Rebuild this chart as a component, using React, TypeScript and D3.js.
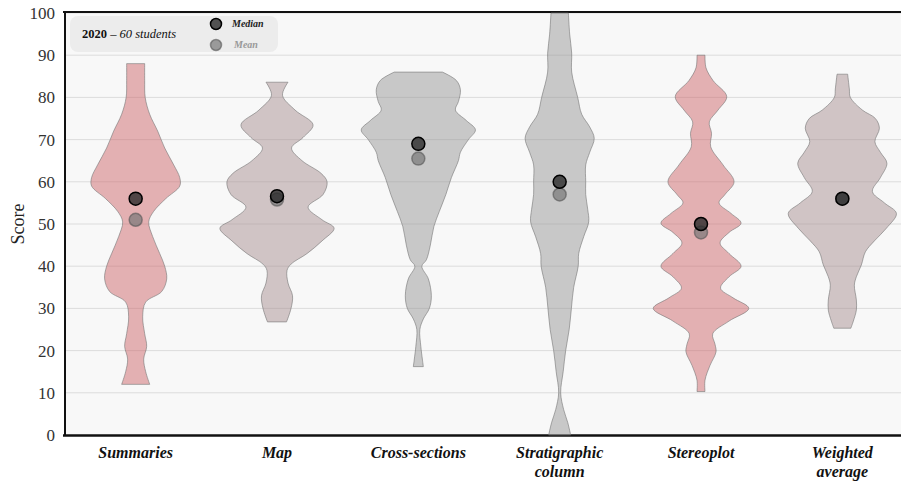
import * as d3 from "d3";
import { useEffect, useRef } from "react";

// categories shown along the x axis (second line after "\n")
const categories = [
  "Summaries",
  "Map",
  "Cross-sections",
  "Stratigraphic\ncolumn",
  "Stereoplot",
  "Weighted\naverage",
];

// violin profiles: [score, relative density]
const densSummaries: [number, number][] = [
  [88, 9], [84, 9], [80, 9.5], [76, 14], [72, 22], [68, 29], [64, 38], [61, 44], [59, 44],
  [56, 30], [53, 18], [50.5, 13], [47, 17], [43, 24], [40, 29], [37, 31], [34, 26],
  [31.5, 10], [28, 7], [24, 9], [21, 11], [18, 8], [15, 10], [12, 14],
];
const densMap: [number, number][] = [
  [83.6, 11], [80.5, 5.5], [77, 18], [73.5, 36], [70.5, 26], [68, 14.5], [65, 25], [62, 44],
  [60, 50], [57, 46], [54, 31], [51, 45], [49, 57], [46, 45], [43, 30], [40.5, 14], [39, 10],
  [36, 11], [33, 15.5], [30, 14], [26.8, 9.5],
];
const densCross: [number, number][] = [
  [86, 24], [84, 38], [81.8, 42], [79, 40], [77, 37], [74.5, 48], [72.3, 57], [70, 50],
  [67, 42], [65, 40], [61, 33], [57, 27.5], [53, 21], [49.4, 15.5], [45, 12], [41.5, 8],
  [40, 3.5], [37, 10], [33, 13], [30, 11], [27.5, 5], [25, 1.5], [21, 2.5], [18, 4], [16.2, 5],
];
const densStrat: [number, number][] = [
  [100, 8.7], [95, 10], [90.5, 12], [86, 12], [80, 18], [76, 22], [73, 30], [70.3, 34.5],
  [67, 30], [64, 26], [60, 26], [57, 26], [53.5, 28], [50.5, 29], [47, 24], [43, 19],
  [40, 18.5], [35, 14], [30, 11.7], [25, 9.5], [20, 6], [15, 3.5], [10, 1], [6, 4], [3, 8], [0, 11],
];
const densStereo: [number, number][] = [
  [90, 4], [87, 5], [84, 12], [80.2, 25.7], [77, 17], [74.2, 8.3], [71.5, 10.5], [68.3, 9.7],
  [64, 22], [60, 33], [57, 24], [55, 18], [52.5, 30], [50.2, 40], [48, 28], [45.5, 19],
  [43, 28], [40, 40], [37.5, 28], [34.8, 19.5], [32.5, 32], [30, 47.7], [27, 28], [24, 11.7],
  [21.5, 14], [19.7, 15], [16.5, 9], [13, 4], [10.3, 4],
];
const densWeighted: [number, number][] = [
  [85.5, 5.3], [82, 7], [80, 8], [77, 20], [75, 33], [72.7, 37], [69.5, 32.5], [67, 38],
  [64.4, 44.5], [61, 38], [57.7, 30], [55, 42], [52.5, 54], [49, 44], [46, 32], [43.4, 23],
  [40.3, 19], [37.5, 14], [35.5, 12], [32, 14], [29.6, 14], [27, 11], [25.3, 8.5],
];
const densities = [densSummaries, densMap, densCross, densStrat, densStereo, densWeighted];

const medians = [56, 56.6, 69, 60, 50, 56];
const means = [51, 55.8, 65.5, 57, 48, 56];
const colorGroup = ["pink", "mauve", "gray", "gray", "pink", "mauve"];

const yTicks = [0, 10, 20, 30, 40, 50, 60, 70, 80, 90, 100];

export default function App() {
  const svgRef = useRef<SVGSVGElement>(null);
  const width = 901;
  const height = 483;

  useEffect(() => {
    document.body.style.margin = "0";
    const svg = d3.select(svgRef.current).attr("width", width).attr("height", height);
    svg.selectAll("*").remove();

    const left = 65;
    const top = 13;
    const bottom = 435;
    const serif = "'Liberation Serif', 'DejaVu Serif', serif";

    const x = d3.scaleBand<string>().domain(categories).range([left, 913]);
    const y = d3.scaleLinear().domain([0, 100]).range([bottom, top]);
    const w = d3.scaleLinear().domain([0, 57]).range([0, x.bandwidth() * 0.404]);
    const fill = d3
      .scaleOrdinal<string, string>()
      .domain(["pink", "mauve", "gray"])
      .range(["#ce686c", "#a89092", "#989898"]);

    // plot background
    svg.append("rect")
      .attr("x", left).attr("y", top)
      .attr("width", width - left).attr("height", bottom - top)
      .attr("fill", "#f8f8f8");

    // gridlines
    svg.append("g")
      .selectAll("line")
      .data(yTicks.slice(1))
      .enter()
      .append("line")
      .attr("x1", left).attr("x2", width)
      .attr("y1", d => y(d)).attr("y2", d => y(d))
      .attr("stroke", "#dcdcdc")
      .attr("stroke-width", 1);

    // tick labels
    svg.append("g")
      .selectAll("text")
      .data(yTicks)
      .enter()
      .append("text")
      .attr("x", 55)
      .attr("y", d => y(d))
      .attr("dy", "0.35em")
      .attr("text-anchor", "end")
      .style("font-family", serif)
      .style("font-size", "17px")
      .attr("fill", "#333")
      .text(d => d);

    svg.append("text")
      .attr("transform", `translate(24, ${(top + bottom) / 2}) rotate(-90)`)
      .attr("text-anchor", "middle")
      .style("font-family", serif)
      .style("font-size", "18px")
      .attr("fill", "#222")
      .text("Score");

    // frame
    svg.append("line").attr("x1", left - 2).attr("x2", width).attr("y1", top - 1).attr("y2", top - 1)
      .attr("stroke", "#111").attr("stroke-width", 2);
    svg.append("line").attr("x1", left).attr("x2", left).attr("y1", top - 2).attr("y2", bottom)
      .attr("stroke", "#111").attr("stroke-width", 2);
    svg.append("line").attr("x1", left - 2).attr("x2", width).attr("y1", bottom + 0.5).attr("y2", bottom + 0.5)
      .attr("stroke", "#111").attr("stroke-width", 2.5);

    // violins
    const g = svg.append("g");
    categories.forEach((cat, i) => {
      const cx = x(cat)! + x.bandwidth() / 2;
      const area = d3.area<[number, number]>()
        .y(d => y(d[0]))
        .x0(d => cx - w(d[1]))
        .x1(d => cx + w(d[1]))
        .curve(d3.curveCatmullRom.alpha(0.5));
      g.append("path")
        .attr("d", area(densities[i]))
        .attr("fill", fill(colorGroup[i]))
        .attr("fill-opacity", 0.5)
        .attr("stroke", "#777")
        .attr("stroke-opacity", 0.6)
        .attr("stroke-width", 1);

      g.append("circle")
        .attr("cx", cx).attr("cy", y(means[i])).attr("r", 6.5)
        .attr("fill", "#777").attr("fill-opacity", 0.7)
        .attr("stroke", "#555").attr("stroke-opacity", 0.6).attr("stroke-width", 1.5);
      g.append("circle")
        .attr("cx", cx).attr("cy", y(medians[i])).attr("r", 6.5)
        .attr("fill", "#2a2a2a").attr("fill-opacity", 0.8)
        .attr("stroke", "#000").attr("stroke-width", 1.5);
    });

    // category labels
    categories.forEach(cat => {
      const cx = x(cat)! + x.bandwidth() / 2;
      const lines = cat.split("\n");
      const t = svg.append("text")
        .attr("text-anchor", "middle")
        .style("font-family", serif)
        .style("font-size", "16px")
        .style("font-weight", "bold")
        .style("font-style", "italic")
        .attr("fill", "#111");
      lines.forEach((ln, k) => {
        t.append("tspan").attr("x", cx).attr("y", 458 + k * 19).text(ln);
      });
    });

    // legend
    const lg = svg.append("g");
    lg.append("rect")
      .attr("x", 70).attr("y", 16).attr("width", 208).attr("height", 36).attr("rx", 8)
      .attr("fill", "#ececec");
    const lt = lg.append("text")
      .attr("x", 82).attr("y", 38)
      .style("font-family", serif)
      .style("font-size", "12.5px")
      .attr("fill", "#111");
    lt.append("tspan").style("font-weight", "bold").text("2020");
    lt.append("tspan").style("font-style", "italic").text(" \u2013 60 students");
    lg.append("circle").attr("cx", 216).attr("cy", 24).attr("r", 5.5)
      .attr("fill", "#2a2a2a").attr("fill-opacity", 0.8).attr("stroke", "#000").attr("stroke-width", 1.5);
    lg.append("circle").attr("cx", 216).attr("cy", 45).attr("r", 5.5)
      .attr("fill", "#777").attr("fill-opacity", 0.7).attr("stroke", "#555").attr("stroke-opacity", 0.6).attr("stroke-width", 1.5);
    lg.append("text").attr("x", 232).attr("y", 27)
      .style("font-family", serif).style("font-size", "10px")
      .style("font-weight", "bold").style("font-style", "italic").attr("fill", "#222")
      .text("Median");
    lg.append("text").attr("x", 234).attr("y", 48)
      .style("font-family", serif).style("font-size", "10px")
      .style("font-weight", "bold").style("font-style", "italic").attr("fill", "#999")
      .text("Mean");

    return () => {};
  }, []);

  return (
    <div style={{ width, height, background: "#fff" }}>
      <svg ref={svgRef}></svg>
    </div>
  );
}
